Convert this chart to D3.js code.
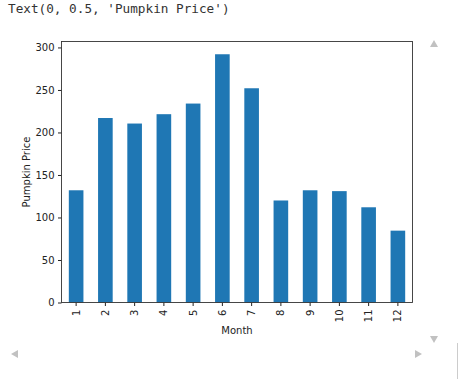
<!DOCTYPE html>
<html><head><meta charset="utf-8">
<script src="https://cdn.jsdelivr.net/npm/d3@7"></script>
<style>body{margin:0;background:#fff;overflow:hidden}</style>
</head><body>
<script>
const months = ["1","2","3","4","5","6","7","8","9","10","11","12"];
const prices = [132, 217, 210.5, 221.5, 234, 292, 252, 120, 132, 131, 112, 84.5];
const yTicks = [0, 50, 100, 150, 200, 250, 300];
const outputText = "Text(0, 0.5, 'Pumpkin Price')";
const xLabel = "Month", yLabel = "Pumpkin Price";

const W = 458, H = 379;
const svg = d3.select("body").append("svg").attr("width", W).attr("height", H);
const m = {l: 61.5, r: 412.5, t: 41.5, b: 302.5};

svg.append("text").attr("x", 8).attr("y", 13)
  .attr("font-family", "DejaVu Sans Mono").attr("font-size", 12.7).attr("fill", "#333")
  .text(outputText);

const x = d3.scaleBand().domain(months).range([m.l, m.r]).paddingInner(0.5).paddingOuter(0.25);
const y = d3.scaleLinear().domain([0, 307]).range([m.b, m.t]);

svg.append("g").selectAll("rect").data(prices).join("rect")
  .attr("x", (d, i) => x(months[i])).attr("width", x.bandwidth())
  .attr("y", d => y(d)).attr("height", d => y(0) - y(d)).attr("fill", "#1f77b4");

const font = "DejaVu Sans";
const ya = svg.append("g").attr("transform", `translate(${m.l},0)`)
  .call(d3.axisLeft(y).tickValues(yTicks).tickSize(3.5).tickPadding(3.5).tickFormat(d3.format("d")));
ya.select(".domain").remove();
ya.selectAll("text").attr("font-family", font).attr("font-size", 10).attr("fill", "#222");
ya.selectAll("line").attr("stroke", "#222");

const xa = svg.append("g").attr("transform", `translate(0,${m.b})`)
  .call(d3.axisBottom(x).tickSize(3.5).tickPadding(3.5));
xa.select(".domain").remove();
xa.selectAll("line").attr("stroke", "#222");
xa.selectAll("text").attr("font-family", font).attr("font-size", 10).attr("fill", "#222")
  .attr("transform", "rotate(-90)").attr("text-anchor", "end").attr("x", -7).attr("y", 0).attr("dy", "0.35em");

svg.append("rect").attr("x", m.l).attr("y", m.t).attr("width", m.r - m.l).attr("height", m.b - m.t)
  .attr("fill", "none").attr("stroke", "#333").attr("stroke-width", 0.9);

svg.append("text").attr("x", (m.l + m.r) / 2).attr("y", 334).attr("text-anchor", "middle")
  .attr("font-family", font).attr("font-size", 10).attr("fill", "#222").text(xLabel);
svg.append("text").attr("transform", `translate(30,${(m.t + m.b) / 2}) rotate(-90)`).attr("text-anchor", "middle")
  .attr("font-family", font).attr("font-size", 10).attr("fill", "#222").text(yLabel);

// scroll arrows
const g = "#c1c1c1";
svg.append("path").attr("d", "M430,47 L438,47 L434,40 Z").attr("fill", g);
svg.append("path").attr("d", "M430,336 L438,336 L434,343 Z").attr("fill", g);
svg.append("path").attr("d", "M11,354 L18,350 L18,358 Z").attr("fill", g);
svg.append("path").attr("d", "M422,354 L415,350 L415,358 Z").attr("fill", g);
svg.append("line").attr("x1", 457.5).attr("x2", 457.5).attr("y1", 343).attr("y2", 379).attr("stroke", "#ccc");
</script>
</body></html>
